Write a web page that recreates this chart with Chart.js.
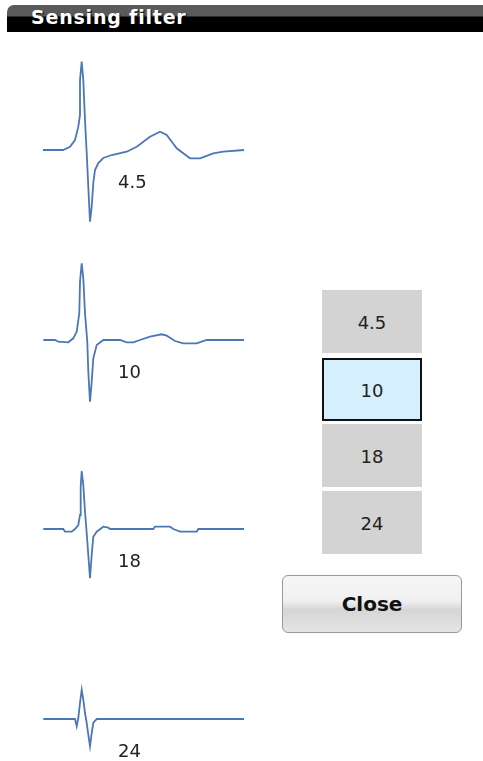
<!DOCTYPE html>
<html>
<head>
<meta charset="utf-8">
<script src="https://cdn.jsdelivr.net/npm/chart.js@4.4.1/dist/chart.umd.min.js"></script>
<style>
  html, body { margin:0; padding:0; background:#fff; width:483px; height:761px; overflow:hidden; font-family:"DejaVu Sans", Verdana, sans-serif; }
  #header { position:absolute; left:7px; top:5px; width:476px; height:27px; border-top-left-radius:7px;
    background:linear-gradient(#5a5a5a 0px, #5a5a5a 11px, #000 12px, #000 100%); }
  #header span { position:absolute; left:24px; top:3px; line-height:19px; color:#fff; font-weight:bold; font-size:19px; letter-spacing:0.8px; text-shadow:1px 1px 1px #000; }
  .wave { position:absolute; left:40px; }
  .lbl { position:absolute; left:118px; font-size:18px; line-height:18px; color:#222; }
  .filt { position:absolute; left:322px; width:100px; height:63px; background:#d3d3d3; box-sizing:border-box;
    display:flex; align-items:center; justify-content:center; font-size:18px; color:#222; padding-top:2px; }
  .filt.sel { background:#d5efff; border:2px solid #111; }
  #close { position:absolute; left:282px; top:575px; width:180px; height:58px; box-sizing:border-box; border:1px solid #999; border-radius:6px;
    background:linear-gradient(#f6f6f6 0%, #f0f0f0 45%, #d6d6d6 60%, #e4e4e4 100%);
    display:flex; align-items:center; justify-content:center; font-weight:bold; font-size:20px; color:#111; }
</style>
</head>
<body>
<div id="header"><span>Sensing filter</span></div>
<div id="waves"></div>
<div id="buttons"></div>
<div id="close">Close</div>
<script>
// filter settings
const filterLabels = ['4.5', '10', '18', '24'];
const selectedFilter = '10';

// waveform for filter 4.5 (time, amplitude)
const t45 = [0, 20, 27, 32, 35.3, 37, 37, 38.7, 40.3, 42, 43.7, 45.3, 47, 48.7, 50.3, 52, 55.3, 60.3, 68.7, 83.7, 93.7, 107, 117, 123.7, 133.7, 147, 157, 170.3, 180.3, 201];
const v45 = [0, 0, 0.33, 1.0, 2.33, 3.5, 7.0, 8.83, 7.0, 3.0, -0.3, -3.67, -7.17, -5.67, -3.3, -2.0, -1.3, -0.8, -0.5, -0.17, 0.33, 1.33, 1.83, 1.5, 0.17, -0.83, -0.83, -0.33, -0.17, 0];

// waveform for filter 10
const t10 = [0.3, 12, 15.3, 25.3, 30.3, 33.7, 36.3, 37, 38.7, 40.3, 42, 44.3, 45.3, 47, 48.7, 50.3, 53.7, 60.3, 77, 83.7, 90.3, 97, 107, 118.7, 123.7, 132, 140.3, 153.7, 163.7, 201];
const v10 = [0, 0, -0.17, -0.23, 0.17, 0.83, 2.67, 5.83, 7.67, 6.17, 2.67, -0.17, -3.17, -6.17, -4.17, -1.83, -0.5, 0, 0, -0.23, -0.23, 0, 0.33, 0.57, 0.43, -0.1, -0.33, -0.33, 0, 0];

// waveform for filter 18
const t18 = [0.3, 20.3, 22, 28.7, 32, 35.3, 37, 37.7, 38.7, 40.3, 42, 43.7, 45.3, 47, 48.7, 50.3, 53.7, 60.3, 65.3, 67, 110.3, 112, 127, 130.3, 137, 153.7, 155.3, 201];
const v18 = [0, 0, -0.27, -0.27, 0, 0.4, 1.4, 4.23, 5.8, 4.4, 1.73, -0.43, -2.6, -4.93, -2.6, -0.77, -0.27, 0.23, 0.13, 0, 0, 0.23, 0.23, 0, -0.27, -0.27, 0, 0];

// waveform for filter 24
const t24 = [0.3, 32, 33.7, 35.3, 37, 38.7, 40.3, 42, 43.7, 45.3, 47, 48.7, 50.3, 53.7, 201];
const v24 = [0, 0, -0.73, 0.1, 1.6, 2.93, 1.93, 0.6, -0.4, -1.57, -2.73, -1.4, -0.4, 0, 0];

const waves = [
  { label: '4.5', t: t45, v: v45, top: 50, labelTop: 173 },
  { label: '10', t: t10, v: v10, top: 240, labelTop: 363 },
  { label: '18', t: t18, v: v18, top: 429, labelTop: 552 },
  { label: '24', t: t24, v: v24, top: 619, labelTop: 742 }
];

const wavesDiv = document.getElementById('waves');
waves.forEach((w, i) => {
  const c = document.createElement('canvas');
  c.className = 'wave';
  c.width = 210; c.height = 180;
  c.style.top = w.top + 'px';
  wavesDiv.appendChild(c);
  const l = document.createElement('div');
  l.className = 'lbl';
  l.style.top = w.labelTop + 'px';
  l.textContent = w.label;
  wavesDiv.appendChild(l);

  new Chart(c.getContext('2d'), {
    type: 'line',
    data: {
      datasets: [{
        data: w.t.map((x, k) => ({ x: x, y: w.v[k] })),
        borderColor: '#4a78b6',
        borderWidth: 1.8,
        pointRadius: 0,
        tension: 0,
        fill: false
      }]
    },
    options: {
      responsive: false,
      animation: false,
      layout: { padding: 0 },
      plugins: { legend: { display: false }, tooltip: { enabled: false } },
      scales: {
        x: { type: 'linear', min: -3, max: 207, display: false },
        y: { min: -8, max: 10, display: false }
      }
    }
  });
});

// selection buttons
const btnTops = [290, 358, 424, 491];
const buttonsDiv = document.getElementById('buttons');
filterLabels.forEach((f, i) => {
  const b = document.createElement('div');
  b.className = 'filt' + (f === selectedFilter ? ' sel' : '');
  b.style.top = btnTops[i] + 'px';
  b.textContent = f;
  buttonsDiv.appendChild(b);
});
</script>
</body>
</html>
